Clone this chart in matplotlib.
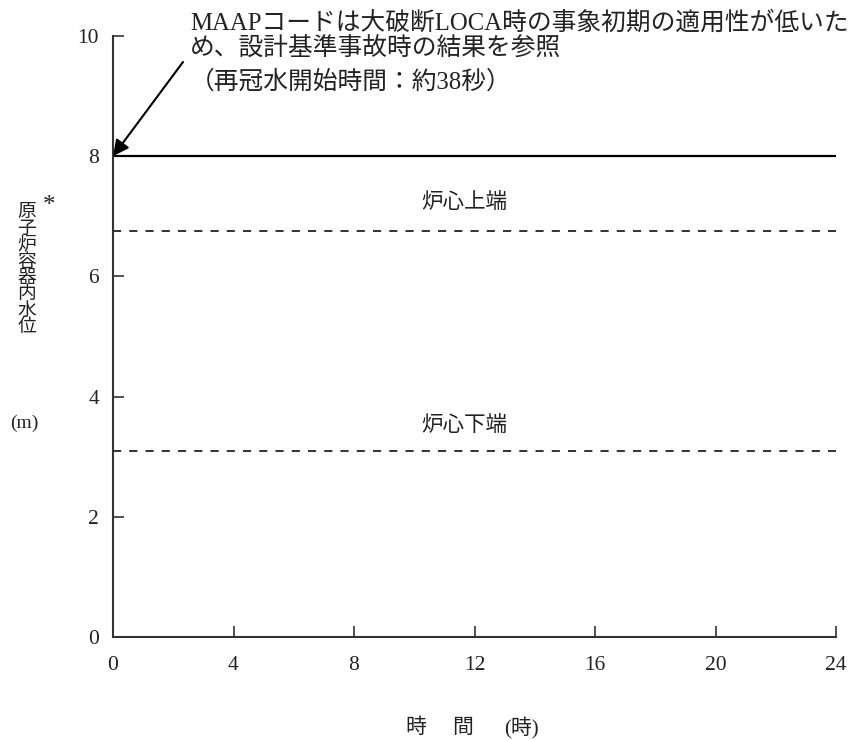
import numpy as np
import matplotlib
matplotlib.use("Agg")
import matplotlib.pyplot as plt

# -----------------------------
# DATA
# -----------------------------
time_h = [0, 24]                 # 時間 (時)
water_level = [8.0, 8.0]         # 原子炉容器内水位 (m)
core_top = 6.76                  # 炉心上端
core_bottom = 3.10               # 炉心下端
x_ticks = [0, 4, 8, 12, 16, 20, 24]
y_ticks = [0, 2, 4, 6, 8, 10]

note_lines = ["MAAPコードは大破断LOCA時の事象初期の適用性が低いた",
              "め、設計基準事故時の結果を参照",
              "（再冠水開始時間：約38秒）"]
ylabel_chars = list("原子炉容器内水位")

# -----------------------------
# PLOT
# -----------------------------
plt.rcParams["font.family"] = ["Liberation Serif", "Noto Sans CJK JP"]
ink = "#222222"

fig = plt.figure(figsize=(8.52, 7.4), dpi=100)
ax = fig.add_axes([113 / 852, 103 / 740, 723 / 852, 601 / 740])

ax.plot(time_h, water_level, color="black", lw=1.6, solid_capstyle="butt")
ax.plot(time_h, [core_top, core_top], color=ink, lw=1.3, dashes=(4.5, 4.5))
ax.plot(time_h, [core_bottom, core_bottom], color=ink, lw=1.3, dashes=(4.5, 4.5))

ax.text(11.65, 7.22, "炉心上端", fontsize=15.5, color=ink,
        ha="center", va="center")
ax.text(11.65, 3.51, "炉心下端", fontsize=15.5, color=ink,
        ha="center", va="center")

ax.set_xlim(0, 24)
ax.set_ylim(0, 10)
ax.set_xticks(x_ticks)
ax.set_yticks(y_ticks)
for s in ["top", "right"]:
    ax.spines[s].set_visible(False)
for s in ["left", "bottom"]:
    ax.spines[s].set_linewidth(1.5)
    ax.spines[s].set_color("#333333")
ax.tick_params(axis="both", direction="in", length=8, width=1.2,
               color="#333333", labelcolor=ink, labelsize=15.5)
ax.tick_params(axis="x", pad=14)
ax.tick_params(axis="y", pad=10)

# y label, written vertically one character at a time
for i, ch in enumerate(ylabel_chars):
    fig.text(27 / 852, 1 - (213 + 16.4 * i) / 740, ch, fontsize=13.5,
             color=ink, ha="center", va="center")
fig.text(49 / 852, 1 - 206 / 740, "*", fontsize=18, color=ink,
         ha="center", va="center")
fig.text(24 / 852, 1 - 423 / 740, "(m)", fontsize=14, color=ink,
         ha="center", va="center")

# x label
for xp, s in [(416, "時"), (463, "間"), (521, "(時)")]:
    fig.text(xp / 852, 1 - 728 / 740, s, fontsize=15, color=ink,
             ha="center", va="center")

# annotation
for yp, s in zip([23, 49, 82], note_lines):
    fig.text(190 / 852, 1 - yp / 740, s, fontsize=17.8, color=ink,
             ha="left", va="center")
ax.annotate("", xy=(0, 8), xycoords="data",
            xytext=(183, 740 - 62), textcoords="figure pixels",
            arrowprops=dict(arrowstyle="-|>", mutation_scale=24,
                            lw=1.5, color="black", shrinkA=0, shrinkB=0),
            annotation_clip=False)

fig.savefig("out.png", dpi=100)
